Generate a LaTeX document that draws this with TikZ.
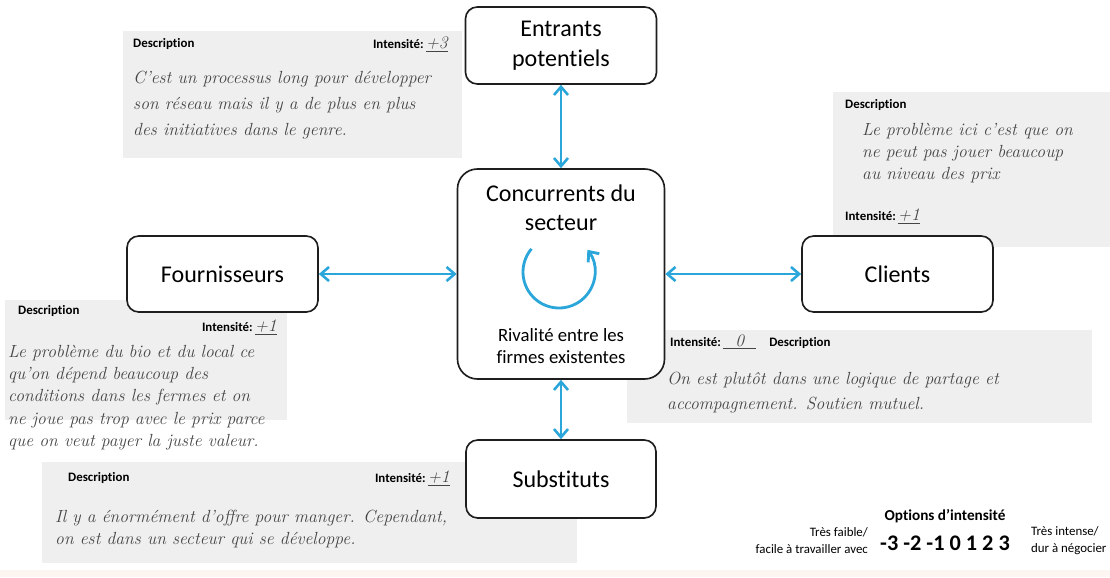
\documentclass[tikz,border=0pt]{standalone}
\usepackage{fontspec}
\newfontfamily\calibri[Ligatures={TeX,NoCommon}]{Carlito}
\usetikzlibrary{arrows.meta}
\definecolor{porterblue}{HTML}{2BA6DA}
\definecolor{panelgray}{HTML}{EFEFEF}
\definecolor{handgray}{HTML}{454545}
\definecolor{boxline}{HTML}{1E1E1E}
\definecolor{stripcol}{HTML}{FDF5F2}
\newcommand\handfont{\normalfont\fontsize{15}{19}\selectfont\itshape}
\newcommand\labfont{\calibri\bfseries\fontsize{11}{13}\selectfont}
\newcommand\intens[1]{{\labfont Intensité:}\,{\handfont\color{handgray}\underline{#1}}}
\begin{document}
\begin{tikzpicture}[x=0.03cm, y=0.03cm,
  force/.style={draw=boxline, fill=white, line width=1.4pt, rounded corners=10pt,
                font=\calibri\fontsize{20.5}{25.5}\selectfont, align=center, inner sep=0pt},
  hand/.style={font=\handfont, text=handgray, align=left, anchor=north west, inner sep=0pt},
  lab/.style={font=\labfont, inner sep=0pt},
  barb/.tip={Straight Barb[length=7pt,width=12pt]},
  link/.style={porterblue, line width=2.2pt, barb-barb}]
  \useasboundingbox (0,0) rectangle (1110,-577);
  \fill[stripcol] (0,-570) rectangle (1110,-577);

  % description panels
  \fill[panelgray] (123,-31) rectangle (462,-158);
  \fill[panelgray] (833,-92) rectangle (1110,-247);
  \fill[panelgray] (5,-300) rectangle (287,-420);
  \fill[panelgray] (627,-330) rectangle (1092,-423);
  \fill[panelgray] (42,-462) rectangle (577,-563);

  % the five forces
  \node (entrants) [force, minimum width=5.73cm, minimum height=2.31cm] at (561,-45.5)
        {Entrants\\potentiels};
  \node (conc)     [force, rounded corners=17pt, minimum width=6.21cm, minimum height=6.3cm]
        at (561,-274) {};
  \node (fourn)    [force, minimum width=5.73cm, minimum height=2.28cm] at (222.5,-274)
        {Fournisseurs};
  \node (clients)  [force, minimum width=5.73cm, minimum height=2.28cm] at (897.5,-274)
        {Clients};
  \node (subst)    [force, minimum width=5.7cm, minimum height=2.34cm] at (561,-479)
        {Substituts};

  \node (concTitle) [font=\calibri\fontsize{20.5}{25}\selectfont, align=center] at (561,-208)
        {Concurrents du\\secteur};
  \coordinate (rivalc) at (559,-272);
  \draw[porterblue, line width=2.4pt, -barb] (rivalc) ++(140:36)
        arc[start angle=140, end angle=398, radius=36];
  \node (rivalite) [font=\calibri\fontsize{16}{19.5}\selectfont, align=center] at (561,-346)
        {Rivalité entre les\\firmes existentes};

  \draw[link] (entrants) -- (conc);
  \draw[link] (fourn)    -- (conc);
  \draw[link] (conc)     -- (clients);
  \draw[link] (conc)     -- (subst);

  % entrants potentiels
  \node (entDesc) [lab, anchor=west] at (133,-44) {Description};
  \node (entInt)  [lab, anchor=east] at (448,-44) {\intens{+3}};
  \node (entText) [hand, font=\fontsize{15}{22}\selectfont\itshape] at (133,-71)
        {C'est un processus long pour développer\\son réseau mais il y a de plus en plus\\des initiatives dans le genre.};

  % clients
  \node (cliDesc) [lab, anchor=west] at (845,-105) {Description};
  \node (cliText) [hand] at (862,-123)
        {Le problème ici c'est que on\\ne peut pas jouer beaucoup\\au niveau des prix};
  \node (cliInt)  [lab, anchor=west] at (845,-216) {\intens{+1}};

  % fournisseurs
  \node (fouDesc) [lab, anchor=west] at (18,-311) {Description};
  \node (fouInt)  [lab, anchor=east] at (277,-327) {\intens{+1}};
  \node (fouText) [hand] at (8,-345)
        {Le problème du bio et du local ce\\qu'on dépend beaucoup des\\conditions dans les fermes et on\\ne joue pas trop avec le prix parce\\que on veut payer la juste valeur.};

  % rivalite
  \node (rivInt)  [lab, anchor=west] at (670,-342) {\intens{\ \ 0\ \ }\quad Description};
  \node (rivText) [hand, font=\fontsize{15}{21}\selectfont\itshape] at (667,-372)
        {On est plutôt dans une logique de partage et\\accompagnement. Soutien mutuel.};

  % substituts
  \node (subDesc) [lab, anchor=west] at (68,-478) {Description};
  \node (subInt)  [lab, anchor=east] at (450,-478) {\intens{+1}};
  \node (subText) [hand] at (55,-510)
        {Il y a énormément d'offre pour manger. Cependant,\\on est dans un secteur qui se développe.};

  % legende
  \node (optTitle) [font=\calibri\bfseries\fontsize{13}{15}\selectfont] at (945,-516)
        {Options d’intensité};
  \node (optScale) [font=\calibri\bfseries\fontsize{19}{21}\selectfont] at (945,-543)
        {-3 -2 -1 0 1 2 3};
  \node (optLow)  [font=\calibri\fontsize{11}{14.5}\selectfont, align=right, anchor=east]
        at (872,-541) {Très faible/\\facile à travailler avec};
  \node (optHigh) [font=\calibri\fontsize{11}{14.5}\selectfont, align=left, anchor=west]
        at (1027,-541) {Très intense/\\dur à négocier};
\end{tikzpicture}
\end{document}
